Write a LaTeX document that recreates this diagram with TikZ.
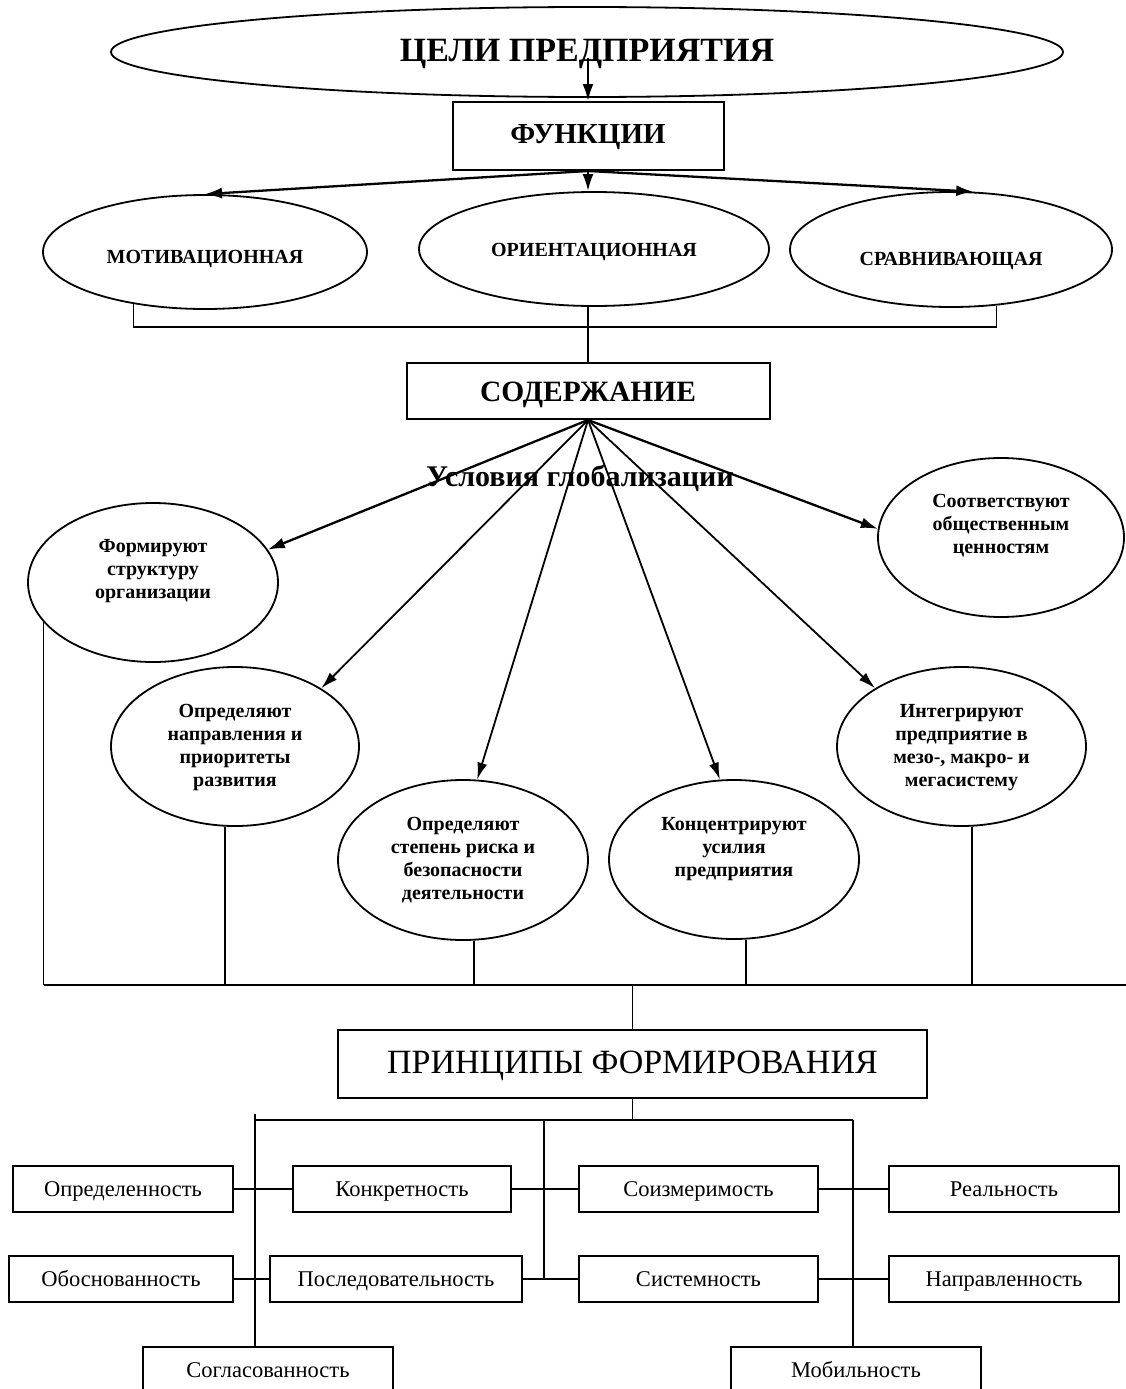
\documentclass[tikz,border=0pt]{standalone}
\usepackage{fontspec}
\setmainfont{Liberation Serif}
\usetikzlibrary{shapes.geometric,arrows.meta}
\begin{document}
\begin{tikzpicture}[x=1pt,y=-1pt,
  oval/.style={ellipse,draw,line width=1.8pt,inner sep=0pt},
  frame/.style={rectangle,draw,line width=2pt,inner sep=0pt},
  pbox/.style={frame,minimum height=46pt,text height=15.9pt,text depth=0pt,font=\fontsize{22.5}{24}\selectfont},
  ovaltext/.style={anchor=north,align=center,inner sep=0pt,font=\bfseries\fontsize{20}{23}\selectfont},
  smallcap/.style={font=\bfseries\fontsize{20}{22}\selectfont,text depth=0pt},
  arr/.style={-{Latex[length=17pt,width=11pt]},line width=2.3pt},
  thinarr/.style={-{Latex[length=17pt,width=10pt]},line width=1.8pt},
  link/.style={line width=1.4pt},
  bus/.style={line width=2.6pt},
]
\clip (0,0) rectangle (1126,1389);
\fill[white] (0,0) rectangle (1126,1389);

% --- goals and functions
\node[oval,minimum width=952pt,minimum height=90pt,text height=18.4pt,text depth=0pt,font=\bfseries\fontsize{34}{36}\selectfont] (goal) at (587,52) {ЦЕЛИ ПРЕДПРИЯТИЯ};
\node[frame,minimum width=271pt,minimum height=68pt,text height=14pt,text depth=0pt,font=\bfseries\fontsize{29}{31}\selectfont] (func) at (588,136) {ФУНКЦИИ};
\coordinate (gstart) at (588,58);
\draw[arr] (gstart) -- (func.north);

\node[oval,minimum width=324pt,minimum height=114pt,smallcap,text height=23.2pt] (mot) at (205,252) {МОТИВАЦИОННАЯ};
\node[oval,minimum width=350pt,minimum height=114pt,smallcap,text height=15.2pt] (orient) at (594,249) {ОРИЕНТАЦИОННАЯ};
\node[oval,minimum width=322pt,minimum height=115pt,smallcap,text height=32pt] (srav) at (951,249.5) {СРАВНИВАЮЩАЯ};

\draw[arr] (func.south) -- (mot.north);
\draw[arr] (func.south) -- (orient.north -| func.south);
\draw[arr] (func.south) -- (srav.69);

% --- content
\node[frame,minimum width=363pt,minimum height=56pt,text height=21.5pt,text depth=0pt,font=\bfseries\fontsize{29.5}{31}\selectfont] (soder) at (588,391) {СОДЕРЖАНИЕ};
\coordinate (brk) at (588,327);
\draw[link] (mot.216) |- (brk) -| (srav.309);
\draw[link] (orient.south -| soder.north) -- (soder.north);

% --- globalisation conditions
\node[oval,minimum width=250pt,minimum height=159pt] (f1) at (153,582.5) {};
\node[oval,minimum width=246pt,minimum height=159pt] (f6) at (1001,537.5) {};
\node[oval,minimum width=248pt,minimum height=159pt] (e2) at (235,746.5) {};
\node[oval,minimum width=250pt,minimum height=160pt] (e3) at (463,860) {};
\node[oval,minimum width=250pt,minimum height=159pt] (e4) at (734,859.5) {};
\node[oval,minimum width=249pt,minimum height=159pt] (e5) at (961.5,746.5) {};

\node[ovaltext] (f1t) at ([yshift=-37pt]f1.north) {Формируют\\структуру\\организации};
\node[ovaltext] (f6t) at ([yshift=-37pt]f6.north) {Соответствуют\\общественным\\ценностям};
\node[ovaltext] (e2t) at ([yshift=-38pt]e2.north) {Определяют\\направления и\\приоритеты\\развития};
\node[ovaltext] (e3t) at ([yshift=-38pt]e3.north) {Определяют\\степень риска и\\безопасности\\деятельности};
\node[ovaltext] (e4t) at ([yshift=-38pt]e4.north) {Концентрируют\\усилия\\предприятия};
\node[ovaltext] (e5t) at ([yshift=-38pt]e5.north) {Интегрируют\\предприятие в\\мезо-, макро- и\\мегасистему};

\draw[arr] (soder.south) -- (f1.16);
\draw[thinarr] (soder.south) -- (e2.34);
\draw[thinarr] (soder.south) -- (e3.80);
\draw[thinarr] (soder.south) -- (e4.100);
\draw[thinarr] (soder.south) -- (e5.146);
\draw[arr] (soder.south) -- (f6.176);

\node[font=\bfseries\fontsize{30}{32}\selectfont,inner sep=0pt] (cond) at (580,478) {Условия глобализации};

% --- collecting bus
\coordinate (busR) at (1126,985);
\coordinate (b2) at (225,985);
\coordinate (b3) at (474,985);
\coordinate (b4) at (746,985);
\coordinate (b5) at (972,985);
\draw[bus] (f1.200 |- busR) -- (busR);
\draw[link] (f1.200) -- (f1.200 |- busR);
\draw[link] (e2.south -| b2) -- (b2);
\draw[link] (e3.south -| b3) -- (b3);
\draw[link] (e4.south -| b4) -- (b4);
\draw[link] (e5.south -| b5) -- (b5);

% --- principles
\node[frame,minimum width=589pt,minimum height=68pt,text height=18.4pt,text depth=0pt,font=\fontsize{34}{36}\selectfont] (princ) at (632.5,1064) {ПРИНЦИПЫ ФОРМИРОВАНИЯ};
\draw[link] (princ.north |- busR) -- (princ.north);

\node[pbox,minimum width=220pt] (opr) at (123,1189) {Определенность};
\node[pbox,minimum width=218pt] (konk) at (402,1189) {Конкретность};
\node[pbox,minimum width=239pt] (soiz) at (698.5,1189) {Соизмеримость};
\node[pbox,minimum width=230pt] (real) at (1004,1189) {Реальность};

\node[pbox,minimum width=224pt] (obo) at (121,1279) {Обоснованность};
\node[pbox,minimum width=252pt] (posl) at (396,1279) {Последовательность};
\node[pbox,minimum width=239pt] (sys) at (698.5,1279) {Системность};
\node[pbox,minimum width=230pt] (napr) at (1004,1279) {Направленность};

\node[pbox,minimum width=250pt] (sogl) at (268,1370) {Согласованность};
\node[pbox,minimum width=250pt] (mob) at (856,1370) {Мобильность};

\coordinate (tj) at (632.5,1120);
\coordinate (tl) at (255,1120);
\coordinate (tm) at (544,1120);
\coordinate (tr) at (853,1120);
\draw[link] (princ.south) -- (tj);
\draw[link] (tl) -- (tr);
\draw[link] ([yshift=6pt]tl) -- (tl |- sogl.north);
\draw[link] (tr) -- (tr |- mob.north);
\draw[link] (tm) -- (tm |- posl.east);

\draw[link] (opr.east) -- (konk.west);
\draw[link] (konk.east) -- (soiz.west);
\draw[link] (soiz.east) -- (real.west);
\draw[link] (obo.east) -- (posl.west);
\draw[link] (posl.east) -- (sys.west);
\draw[link] (sys.east) -- (napr.west);
\end{tikzpicture}
\end{document}
